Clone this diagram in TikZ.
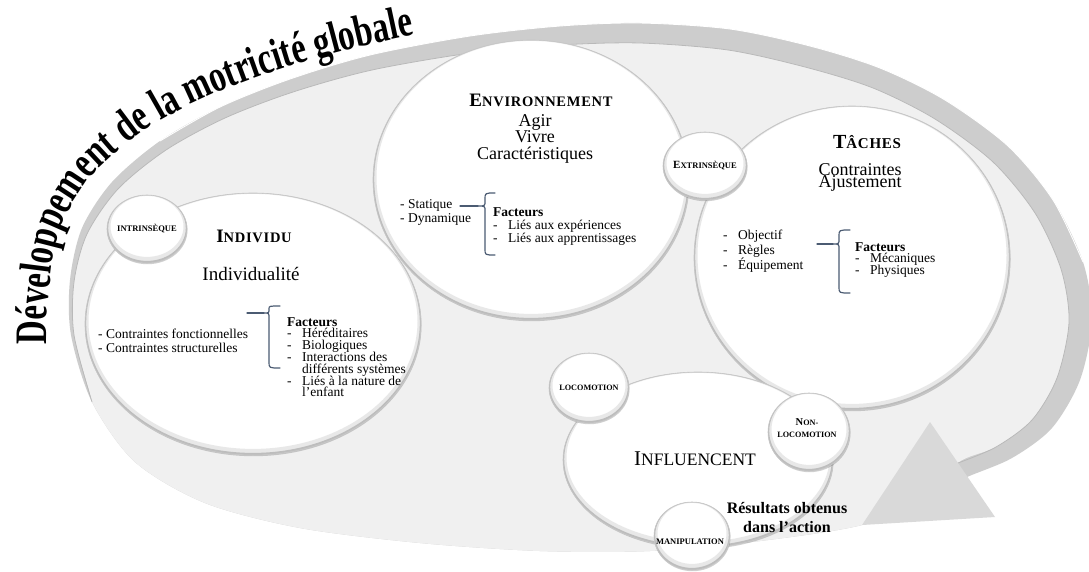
\documentclass[tikz,border=0pt]{standalone}
\usepackage{fontspec}
\setmainfont{Liberation Serif}
\newfontfamily\titlefam{Liberation Serif}[FakeStretch=0.73]
\newfontfamily\hdfam{Liberation Serif}[LetterSpace=5]
\usetikzlibrary{decorations.text,shapes.geometric,shadows}
\definecolor{bandlight}{HTML}{F0F0F0}
\definecolor{banddark}{HTML}{CDCDCD}
\definecolor{trifill}{HTML}{D9D9D9}
\definecolor{bracecol}{HTML}{4B5B72}
\newcommand\fs[1]{\fontsize{#1}{#1}\selectfont}
\newcommand\LinesL[1]{\vtop{\lineskiplimit=-100pt\lineskip=0pt\halign{##\hfil\cr#1\crcr}}}
\newcommand\LinesC[1]{\vtop{\lineskiplimit=-100pt\lineskip=0pt\halign{\hfil##\hfil\cr#1\crcr}}}
\newcommand\dsh{\makebox[15pt][l]{-}}
\newcommand\indt{\hspace*{15pt}}
\newcommand\SCb[4]{{\hdfam\bfseries\fs{#1}#3\fs{#2}#4}}
\newcommand\titlefont{\titlefam\fontsize{45}{45}\selectfont\bfseries}
\newcommand\outerpath{plot[smooth cycle] coordinates {(862,525) (760,541) (650,551) (540,551) (420,543) (300,528) (205,503) (135,462) (92,402) (71,335) (70,280) (82,228) (112,182) (160,141) (220,107) (290,79) (370,55) (470,36) (560,26) (640,23) (730,29) (810,46) (880,68) (945,100) (1008,146) (1053,200) (1083,262) (1092,320) (1080,380) (1052,428) (1012,458) (967,477) (915,500)}}
\tikzset{
  bubble/.style 2 args={ellipse, minimum width=2*#1pt, minimum height=2*#2pt,
    inner sep=0pt, outer sep=0pt, fill=white, draw=gray!45, line width=0.6pt,
    drop shadow={shadow xshift=0.5pt, shadow yshift=-1.2pt, fill=black, opacity=0.18},
    path picture={
      \draw[gray!50, line width=7pt, opacity=0.35] ([yshift=2.6pt]path picture bounding box.center) ellipse [x radius=#1pt, y radius=#2pt];
      \draw[gray!70, line width=2.4pt, opacity=0.65] ([yshift=0.9pt]path picture bounding box.center) ellipse [x radius=#1pt, y radius=#2pt];
    }},
  lst/.style={inner sep=0pt, anchor=base west, font=\fontsize{13.5}{14}\selectfont},
  ctr/.style={inner sep=0pt, anchor=base},
  lbl/.style={inner sep=0pt, anchor=center, font=\bfseries},
  bracestyle/.style={draw=bracecol, line width=1.2pt, line cap=round, line join=round},
}
\begin{document}
\begin{tikzpicture}[x=1pt, y=-1pt]
\useasboundingbox (0,0) rectangle (1089,571);
\fill[white] (0,0) rectangle (1089,571);

% whole arrow body in the darker band colour
\fill[banddark] \outerpath;
% lighter inside, clipped to the body, leaving the outer band
\begin{scope}
  \clip \outerpath;
  \fill[bandlight] plot[smooth cycle] coordinates {(92,402) (74,335) (74,282) (87,234) (118,189) (166,150) (225,118) (293,92) (372,70) (471,53) (560,45) (640,43) (728,50) (805,67) (873,88) (935,119) (993,162) (1035,213) (1061,269) (1069,322) (1057,378) (1032,420) (996,447) (958,463) (940,500) (800,620) (400,640) (120,560) (96,440)};
\end{scope}
\draw[gray!55, line width=0.8pt] plot[smooth] coordinates {(958,463) (996,447) (1032,420) (1057,378) (1069,322) (1061,269) (1035,213) (993,162) (935,119) (873,88) (805,67) (728,50) (640,43) (560,45) (471,53) (372,70) (293,92) (225,118) (166,150) (118,189) (87,234) (74,282) (74,335) (92,402)};
\draw[white, line width=0.9pt] plot[smooth] coordinates {(160,141) (220,107) (290,79) (370,55) (470,36) (560,26) (640,23) (730,29) (810,46) (880,68) (945,100) (1008,146) (1053,200) (1083,262)};
% arrowhead
\fill[trifill] (930,422) -- (995,517) -- (862,525) -- cycle;

% title
\path[decorate, decoration={text along path, text align=left,
  text={|\titlefont|Développement de la motricité globale}}]
  plot[smooth] coordinates {(47,344) (48,300) (58,235) (88,180) (138,135) (200,100) (272,72) (352,49) (440,30) (520,18) (600,12)};

% big circles
\node[bubble={168}{131}] (indiv) at (253,324) {};
\node[bubble={158}{140}] (env) at (531,180) {};
\node[bubble={158}{152}] (tach) at (852,258) {};
\node[bubble={135}{88}] (infl) at (698,460) {};
% small circles
\node[bubble={40}{34}] (intr) at (147,229) {};
\node[bubble={42}{34}] (extr) at (705,166) {};
\node[bubble={40}{35}] (loco) at (589,388) {};
\node[bubble={41}{39}] (nonloco) at (809,432) {};
\node[bubble={38}{34}] (manip) at (692,536) {};

% small circle labels
\node[lbl] (tIntr) at (147,229) {\fs{8.5}INTRINSÈQUE};
\node[lbl] (tExtr) at (705,166) {\fs{11}E\fs{8.5}XTRINSÈQUE};
\node[lbl] (tLoco) at (589,388) {\fs{8.2}LOCOMOTION};
\node[lbl, font=\bfseries\fontsize{8.2}{12.5}\selectfont] (tNon) at (807,428) {\LinesC{{\fs{10.5}N}{\fs{8.2}ON-}\cr LOCOMOTION}};
\node[lbl] (tManip) at (690,542) {\fs{8.5}MANIPULATION};

% Individu
\node[ctr] (hIndiv) at (254,242) {\SCb{19}{14.5}{I}{NDIVIDU}};
\node[ctr, font=\fs{19}] (kIndiv) at (251,280) {Individualité};
\node[lst] (lIndiv) at (98,338) {\LinesL{- Contraintes fonctionnelles\cr - Contraintes structurelles}};
\node[lst, font=\fontsize{13.5}{11.8}\selectfont] (fIndiv) at (287,326) {\LinesL{\textbf{Facteurs}\cr\dsh Héréditaires\cr\dsh Biologiques\cr\dsh Interactions des\cr\indt différents systèmes\cr\dsh Liés à la nature de\cr\indt l’enfant}};

% Environnement
\node[ctr] (hEnv) at (541,106) {\SCb{19}{14.5}{E}{NVIRONNEMENT}};
\node[ctr, font=\fontsize{18}{16.5}\selectfont] (kEnv) at (535,126) {\LinesC{Agir\cr Vivre\cr Caractéristiques}};
\node[lst] (lEnv) at (400,208) {\LinesL{- Statique\cr - Dynamique}};
\node[lst, font=\fontsize{13.5}{13}\selectfont] (fEnv) at (493,216) {\LinesL{\textbf{Facteurs}\cr\dsh Liés aux expériences\cr\dsh Liés aux apprentissages}};

% Taches
\node[ctr] (hTach) at (867,148) {\SCb{20}{15}{T}{ÂCHES}};
\node[ctr, font=\fontsize{18}{12}\selectfont] (kTach) at (860,175) {\LinesC{Contraintes\cr Ajustement}};
\node[lst, font=\fontsize{13.5}{15}\selectfont] (lTach) at (723,239) {\LinesL{\dsh Objectif\cr\dsh Règles\cr\dsh Équipement}};
\node[lst, font=\fontsize{13.5}{11.7}\selectfont] (fTach) at (855,251) {\LinesL{\textbf{Facteurs}\cr\dsh Mécaniques\cr\dsh Physiques}};

% Influencent
\node[ctr] (hInfl) at (695,465) {\fs{21}I\fs{17.5}NFLUENCENT};
\node[ctr, font=\bfseries\fontsize{16}{19}\selectfont] (tRes) at (787,513) {\LinesC{Résultats obtenus\cr dans l’action}};

% braces and connectors
\coordinate (bEnvS) at (460,206); \coordinate (bEnvT) at (478,206);
\draw[bracestyle] (bEnvS) -- (bEnvT);
\draw[bracestyle] (495,193) .. controls (485,193) .. (485,199) -- (485,201) .. controls (485,206) .. (bEnvT) .. controls (485,206) .. (485,211) -- (485,249) .. controls (485,255) .. (495,255);

\coordinate (bTachS) at (817,244); \coordinate (bTachT) at (833,244);
\draw[bracestyle] (bTachS) -- (bTachT);
\draw[bracestyle] (850,230) .. controls (839,230) .. (839,236) -- (839,239) .. controls (839,244) .. (bTachT) .. controls (839,244) .. (839,249) -- (839,287) .. controls (839,293) .. (850,293);

\coordinate (bIndS) at (247,313); \coordinate (bIndT) at (264,313);
\draw[bracestyle] (bIndS) -- (bIndT);
\draw[bracestyle] (280,306) .. controls (269,306) .. (269,309) .. controls (269,313) .. (bIndT) .. controls (269,313) .. (269,318) -- (269,362) .. controls (269,368) .. (280,368);
\end{tikzpicture}
\end{document}
